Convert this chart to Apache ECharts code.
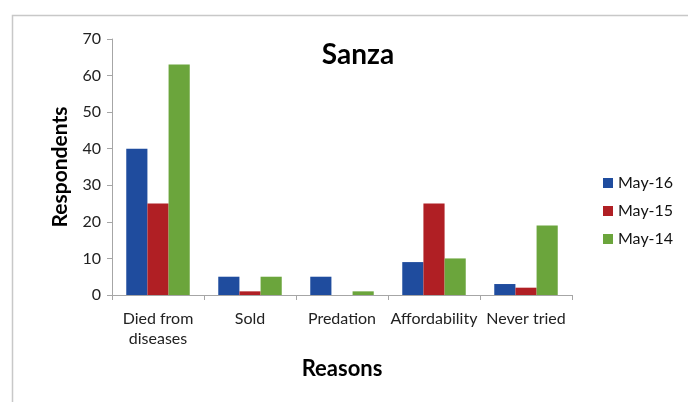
<!DOCTYPE html>
<html>
<head>
<meta charset="utf-8">
<script src="https://cdn.jsdelivr.net/npm/echarts@6/dist/echarts.min.js"></script>
<style>
  html, body { margin: 0; padding: 0; background: #fff; }
  #main { width: 688px; height: 402px; }
</style>
</head>
<body>
<div id="main"></div>
<script>
// 数据
var categories = ['Died from\ndiseases', 'Sold', 'Predation', 'Affordability', 'Never tried'];
var may16 = [40, 5, 5, 9, 3];
var may15 = [25, 1, 0, 25, 2];
var may14 = [63, 5, 1, 10, 19];
var yTicks = [0, 10, 20, 30, 40, 50, 60, 70];

var font = 'Lato, "Open Sans", sans-serif';

var myChart = echarts.init(document.getElementById('main'));
myChart.setOption({
    animation: false,
    textStyle: { fontFamily: font },
    title: {
        text: 'Sanza',
        left: 353, top: 36, textAlign: 'center',
        textStyle: { fontSize: 28, fontWeight: 'bold', color: '#000', fontFamily: font }
    },
    graphic: [{
        type: 'rect', left: 10, top: 13,
        shape: { width: 720, height: 420 },
        style: { fill: 'none', stroke: '#c8c8c8', lineWidth: 1.5 },
        silent: true
    }],
    legend: {
        orient: 'vertical',
        left: 598, top: 170,
        itemWidth: 10, itemHeight: 10, itemGap: 12,
        icon: 'rect',
        textStyle: { fontSize: 16, color: '#111', fontFamily: font }
    },
    grid: { left: 112, right: 116, top: 39, bottom: 107 },
    xAxis: {
        type: 'category',
        data: categories,
        name: 'Reasons',
        nameLocation: 'middle',
        nameGap: 63,
        nameTextStyle: { fontSize: 22, fontWeight: 'bold', color: '#000', fontFamily: font },
        axisLine: { lineStyle: { color: '#a6a6a6' } },
        axisTick: { show: true, length: 5, lineStyle: { color: '#a6a6a6' } },
        axisLabel: { fontSize: 16, color: '#222', interval: 0, margin: 14, lineHeight: 20 }
    },
    yAxis: {
        type: 'value',
        min: yTicks[0], max: yTicks[yTicks.length - 1], interval: 10,
        name: 'Respondents',
        nameLocation: 'middle',
        nameGap: 41,
        nameTextStyle: { fontSize: 21, fontWeight: 'bold', color: '#000', fontFamily: font },
        splitLine: { show: false },
        axisLine: { show: true, lineStyle: { color: '#a6a6a6' } },
        axisTick: { show: true, length: 5, lineStyle: { color: '#a6a6a6' } },
        axisLabel: { fontSize: 16, color: '#222', margin: 11 }
    },
    series: [
        { name: 'May-16', type: 'bar', data: may16, barGap: 0, barCategoryGap: '31%',
          itemStyle: { color: '#1f4c9e' } },
        { name: 'May-15', type: 'bar', data: may15, barGap: 0, barCategoryGap: '31%',
          itemStyle: { color: '#b01f24' } },
        { name: 'May-14', type: 'bar', data: may14, barGap: 0, barCategoryGap: '31%',
          itemStyle: { color: '#6ba53c' } }
    ]
});
</script>
</body>
</html>
